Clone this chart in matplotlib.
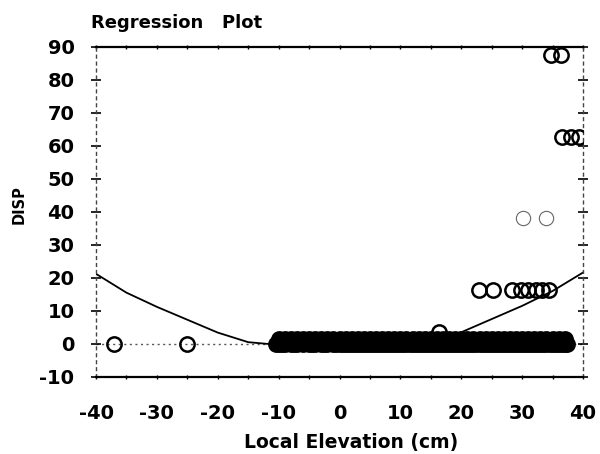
import numpy as np
import matplotlib.pyplot as plt
from matplotlib.ticker import MultipleLocator

plt.rcParams['axes.unicode_minus'] = False
plt.rcParams['font.family'] = 'DejaVu Sans'

# regression curve
curve_x = [-40, -35, -30, -25, -20, -15, -12, -10, 0, 10, 15, 18, 20, 25, 30, 35, 40]
curve_y = [21.2, 15.5, 11.2, 7.3, 3.4, 0.5, 0.0, -0.2, -0.5, 0.0, 1.0, 2.2, 3.5, 7.5, 11.5, 16.0, 21.6]

# observations
zero_x = [-37, -25]
band_x = [-10.5, -10, -9.5, -9, -8, -7.5, -7, -6, -5, -4.5, -4, -3, -2.5, -2, -1, -0.5,
          0, 0.5, 1, 1.5, 2, 2.5, 3, 3.5, 4, 4.5, 5, 5.5, 6, 6.5, 7, 7.5, 8, 8.5,
          9, 9.5, 10, 10.5, 11, 11.5, 12, 12.5, 13, 13.5, 14, 14.5, 15, 15.5, 16,
          16.5, 17, 17.5, 18, 18.5, 19, 19.5, 20, 20.5, 21, 21.5, 22, 22.5, 23,
          23.5, 24, 24.5, 25, 25.5, 26, 26.5, 27, 27.5, 28, 28.5, 29, 29.5, 30,
          30.5, 31, 31.5, 32, 32.5, 33, 33.5, 34, 34.5, 35, 35.5, 36, 36.5, 37, 37.4]
low_x = [-10, -9, -8, -7, -6, -5, -4, -3, -2, -1, 0, 1, 2, 3, 4, 5, 6, 7, 8, 9,
         10, 11, 12, 13, 14, 15, 16, 17, 18, 19, 20, 21, 22, 23, 24, 25, 26, 27,
         28, 29, 30, 31, 32, 33, 34, 35, 36, 37]
low_y = 1.4
mid_x = [16.3]
mid_y = [3.5]
row16_x = [22.9, 25.2, 28.3, 29.8, 31.0, 32.2, 33.3, 34.4]
row16_y = [16.4, 16.4, 16.4, 16.4, 16.4, 16.4, 16.4, 16.4]
row38_x = [30.1, 33.9]
row38_y = [38.2, 38.2]
top_x = [36.6, 38.0, 39.3, 34.7, 36.4]
top_y = [62.8, 62.8, 62.8, 87.6, 87.6]

fig = plt.figure(figsize=(6, 4.54), dpi=100)
ax = fig.add_axes([0.16, 0.170, 0.8117, 0.727])

ax.axhline(0, color='#555555', lw=1, ls=(0, (1.5, 2.5)), zorder=1)
ax.plot(curve_x, curve_y, color='black', lw=1.3, zorder=2)

mk = dict(ls='none', marker='o', ms=10.3, mfc='none', mec='black', mew=1.8, zorder=3)
ax.plot(zero_x, [0] * len(zero_x), **mk)
ax.plot(mid_x, mid_y, **mk)
ax.plot(row16_x, row16_y, **mk)
ax.plot(top_x, top_y, **mk)
ax.plot(row38_x, row38_y, ls='none', marker='o', ms=10.3, mfc='none',
        mec='#666666', mew=0.8, zorder=3)
# dense band: overlapping circles merge into a solid black strip
ax.plot(band_x, [0] * len(band_x), ls='none', marker='o', ms=10.3, mfc='black',
        mec='black', mew=1.8, zorder=4)
ax.plot(low_x, [low_y] * len(low_x), ls='none', marker='o', ms=10.3, mfc='black',
        mec='black', mew=1.8, zorder=4)

ax.set_xlim(-40, 40)
ax.set_ylim(-10, 90)
ax.xaxis.set_major_locator(MultipleLocator(10))
ax.xaxis.set_minor_locator(MultipleLocator(5))
ax.yaxis.set_major_locator(MultipleLocator(10))

for s in ['top', 'bottom']:
    ax.spines[s].set_linewidth(1.6)
for s in ['left', 'right']:
    ax.spines[s].set_linewidth(1)
    ax.spines[s].set_linestyle((0, (2, 3)))
    ax.spines[s].set_color('#444444')

ax.tick_params(axis='y', which='major', left=True, right=True, direction='inout',
               length=7, width=1.2, labelsize=14, pad=12)
ax.tick_params(axis='x', which='both', top=True, bottom=True, direction='inout',
               length=3, width=1)
ax.tick_params(axis='x', which='major', labelsize=14, pad=18)
for lab in ax.get_xticklabels() + ax.get_yticklabels():
    lab.set_fontweight('bold')

ax.set_xlabel('Local Elevation (cm)', fontsize=13.5, fontweight='bold')
ax.xaxis.set_label_coords(0.524, -0.17)
ax.set_ylabel('DISP', fontsize=10.5, fontweight='bold')
ax.yaxis.set_label_coords(-0.142, 0.523)

fig.text(0.152, 0.938, 'Regression   Plot', fontsize=13, fontweight='bold', ha='left')

fig.savefig('out.png', dpi=100)
